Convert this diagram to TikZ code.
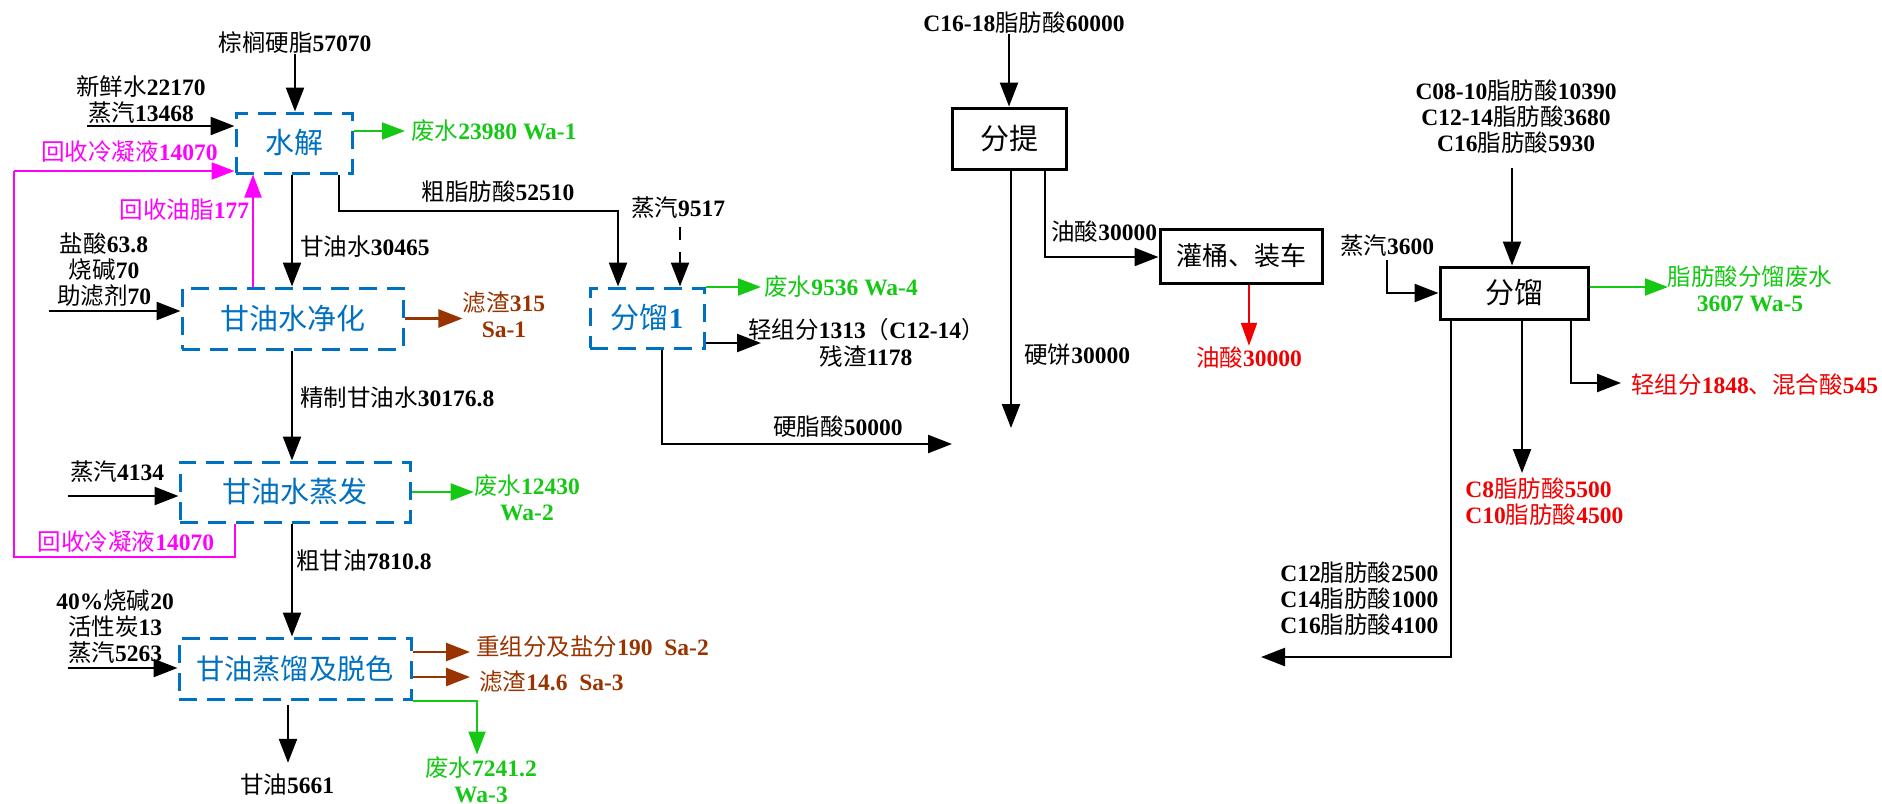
\documentclass[tikz,border=0pt]{standalone}
\usepackage{fontspec}
\setmainfont{Liberation Serif}
\newfontfamily\cjk{Noto Sans CJK SC}
\usetikzlibrary{arrows.meta}
\definecolor{pblue}{RGB}{0,112,192}
\definecolor{pgreen}{RGB}{20,200,20}
\definecolor{pbrown}{RGB}{153,51,0}
\definecolor{pmag}{RGB}{255,0,255}
\definecolor{pred}{RGB}{240,0,0}
\newcommand\zh[1]{{\cjk\mdseries #1}}
\newcommand\lblfont{\fontsize{11.75}{13}\selectfont\bfseries}
\newcommand\boxfont{\fontsize{14.5}{16}\selectfont\bfseries}
\begin{document}
\begin{tikzpicture}[x=0.5pt,y=-0.5pt,
  lbl/.style={font=\lblfont, inner sep=0pt, align=center},
  pbox/.style={draw=pblue, dash pattern=on 9pt off 5pt, line width=1.5pt, text=pblue, font=\boxfont, inner sep=0pt},
  kbox/.style={draw=black, line width=1.5pt, font=\boxfont, inner sep=0pt},
  arr/.style={draw=black, line width=1.2pt, -{Triangle[length=12pt,width=9pt]}},
  garr/.style={draw=pgreen, line width=1pt, -{Triangle[length=11.5pt,width=8.5pt]}},
  barr/.style={draw=pbrown, line width=1.3pt, -{Triangle[length=12pt,width=9pt]}},
  marr/.style={draw=pmag, line width=1pt, -{Triangle[length=11.5pt,width=8.5pt]}},
  mline/.style={draw=pmag, line width=1pt},
  rarr/.style={draw=pred, line width=1pt, -{Triangle[length=11.5pt,width=8pt]}}]
\useasboundingbox (0,0) rectangle (1882,803);

% ---------- boxes ----------
\node[pbox, minimum width=58pt, minimum height=30pt] (sj) at (294,143) {\zh{水解}};
\node[pbox, minimum width=110.5pt, minimum height=30.5pt] (jh) at (292.5,318.5) {\zh{甘油水净化}};
\node[pbox, minimum width=115pt, minimum height=30pt] (zf) at (295,492) {\zh{甘油水蒸发}};
\node[pbox, minimum width=116pt, minimum height=30.5pt, font=\fontsize{14.1}{16}\selectfont] (zl) at (295,668.5) {\zh{甘油蒸馏及脱色}};
\node[pbox, minimum width=57pt, minimum height=30pt] (fl1) at (647,318) {\zh{分馏}1};
\node[kbox, minimum width=57pt, minimum height=30.5pt] (ft) at (1009,138.5) {\zh{分提}};
\node[kbox, minimum width=81pt, minimum height=27pt, font=\fontsize{13}{15}\selectfont] (gt) at (1241,256) {\zh{灌桶、装车}};
\node[kbox, minimum width=74pt, minimum height=26pt] (fl) at (1514,293) {\zh{分馏}};

% ---------- left column ----------
\coordinate (cx) at (292,0);
\node[lbl] (palm) at (295,43) {\zh{棕榈硬脂}57070};
\draw[arr] (palm.south) -- (palm.south |- sj.north);

\node[lbl] (in1) at (141,100) {\zh{新鲜水}22170\\\zh{蒸汽}13468};
\coordinate (in1a) at (87,126);
\draw[arr] (in1a) -- (in1a -| sj.west);

\node[lbl, text=pgreen, anchor=west] (wa1) at (411,131) {\zh{废水}23980 Wa-1};
\draw[garr] (wa1.west -| sj.east) -- ([xshift=-3pt]wa1.west);

\node[lbl, text=pmag] (rc1) at (129.5,152) {\zh{回收冷凝液}14070};
\coordinate (m1) at (14,171);
\coordinate (m2) at (14,557);
\coordinate (m3) at (235,557);
\draw[marr] (m1) -- (m1 -| sj.west);
\draw[mline] (m1) -- (m2) -- (m3) -- (m3 |- zf.south);
\node[lbl, text=pmag] (rc2) at (126,542) {\zh{回收冷凝液}14070};

\node[lbl, text=pmag] (ry) at (184.5,210) {\zh{回收油脂}177};
\coordinate (m4) at (253,0);
\draw[marr] (m4 |- jh.north) -- (m4 |- sj.south);

\draw[arr] (cx |- sj.south) -- (cx |- jh.north);
\node[lbl, anchor=west] (gys) at (300,247) {\zh{甘油水}30465};

\coordinate (c1) at (339,211);
\coordinate (c2) at (618,211);
\draw[arr] (c1 |- sj.south) -- (c1) -- (c2) -- (c2 |- fl1.north);
\node[lbl] (czf) at (498,192) {\zh{粗脂肪酸}52510};

\node[lbl] (in2) at (104,270) {\zh{盐酸}63.8\\\zh{烧碱}70\\\zh{助滤剂}70};
\coordinate (in2a) at (49,311);
\draw[arr] (in2a) -- (in2a -| jh.west);

\node[lbl, text=pbrown] (sa1) at (504,315) {\zh{滤渣}315\\Sa-1};
\draw[barr] (jh.east) -- (jh.east -| sa1.west);

\draw[arr] (cx |- jh.south) -- (cx |- zf.north);
\node[lbl, anchor=west] (jz) at (300,398) {\zh{精制甘油水}30176.8};

\node[lbl] (in3) at (117,472) {\zh{蒸汽}4134};
\coordinate (in3a) at (68,496);
\draw[arr] (in3a) -- (in3a -| zf.west);

\node[lbl, text=pgreen] (wa2) at (527,498) {\zh{废水}12430\\Wa-2};
\draw[garr] (zf.east) -- (zf.east -| wa2.west);

\draw[arr] (cx |- zf.south) -- (cx |- zl.north);
\node[lbl, anchor=west] (cgy) at (296,561) {\zh{粗甘油}7810.8};

\node[lbl] (in4) at (115,627) {40\%\zh{烧碱}20\\\zh{活性炭}13\\\zh{蒸汽}5263};
\coordinate (in4a) at (68,668);
\draw[arr] (in4a) -- (in4a -| zl.west);

\node[lbl, text=pbrown, anchor=west] (sa2) at (476,647) {\zh{重组分及盐分}190\ \ Sa-2};
\coordinate (b2) at (470,652);
\draw[barr] (b2 -| zl.east) -- (b2);
\node[lbl, text=pbrown, anchor=west] (sa3) at (479,682) {\zh{滤渣}14.6\ \ Sa-3};
\coordinate (b3) at (470,677);
\draw[barr] (b3 -| zl.east) -- (b3);

\node[lbl, text=pgreen] (wa3) at (481,780) {\zh{废水}7241.2\\Wa-3};
\coordinate (g3) at (477,0);
\draw[garr] (zl.south east) -- (g3 |- zl.south east) -- ([yshift=1pt]g3 |- wa3.north);

\node[lbl] (gy) at (287,785) {\zh{甘油}5661};
\coordinate (gy0) at (288,705);
\draw[arr] (gy0) -- ([yshift=5.5pt]gy0 |- gy.north);

% ---------- fen liu 1 ----------
\node[lbl] (st5) at (678,208) {\zh{蒸汽}9517};
\coordinate (st5a) at (680,227);
\draw[arr, dash pattern=on 6.5pt off 6pt] (st5a) -- (st5a |- fl1.north);

\node[lbl, text=pgreen, anchor=west] (wa4) at (764,287) {\zh{废水}9536 Wa-4};
\draw[garr] (wa4.west -| fl1.east) -- ([xshift=-1.5pt]wa4.west);

\node[lbl, anchor=west] (qz) at (748,330) {\zh{轻组分}1313\zh{（}C12-14\zh{）}};
\node[lbl] (cz) at (866,356) {\zh{残渣}1178};
\coordinate (q1) at (761,343);
\draw[arr] (q1 -| fl1.east) -- (q1);

\coordinate (h1) at (662,444);
\coordinate (h2) at (952,444);
\draw[arr] (h1 |- fl1.south) -- (h1) -- (h2);
\node[lbl] (yzs) at (838,427) {\zh{硬脂酸}50000};

% ---------- fen ti ----------
\node[lbl] (c1618) at (1024,23) {C16-18\zh{脂肪酸}60000};
\draw[arr] (c1618.south -| ft.north) -- (ft.north);
\coordinate (yb) at (1011,428);
\draw[arr] (yb |- ft.south) -- (yb);
\node[lbl, anchor=west] (yb1) at (1024,355) {\zh{硬饼}30000};
\coordinate (ys) at (1045,257);
\draw[arr] (ys |- ft.south) -- (ys) -- (ys -| gt.west);
\node[lbl, anchor=west] (ys1) at (1051,232) {\zh{油酸}30000};
\node[lbl, text=pred] (ys2) at (1249,358) {\zh{油酸}30000};
\draw[rarr] (ys2.north |- gt.south) -- ([yshift=0.5pt]ys2.north);

% ---------- fen liu ----------
\node[lbl] (c08) at (1516,117) {C08-10\zh{脂肪酸}10390\\C12-14\zh{脂肪酸}3680\\C16\zh{脂肪酸}5930};
\coordinate (c08a) at (1512,168);
\draw[arr] (c08a) -- (c08a |- fl.north);

\node[lbl] (st6) at (1387,246) {\zh{蒸汽}3600};
\coordinate (s36) at (1387,260);
\draw[arr] (s36) -- (s36 |- fl.west) -- (fl.west);

\node[lbl, text=pgreen] (wa5) at (1750,289) {\zh{脂肪酸分馏废水}\\3607 Wa-5};
\coordinate (g5) at (1668,287);
\draw[garr] (g5 -| fl.east) -- (g5);

\coordinate (l1) at (1571,383);
\coordinate (l2) at (1621,383);
\draw[arr] (l1 |- fl.south) -- (l1) -- (l2);
\node[lbl, text=pred, anchor=west] (lz) at (1631,385) {\zh{轻组分}1848\zh{、混合酸}545};

\coordinate (c8) at (1522,473);
\draw[arr] (c8 |- fl.south) -- (c8);
\node[lbl, text=pred, anchor=west, align=left] (c8t) at (1465,502) {C8\zh{脂肪酸}5500\\C10\zh{脂肪酸}4500};

\coordinate (k1) at (1451,657);
\coordinate (k2) at (1261,657);
\draw[arr] (k1 |- fl.south) -- (k1) -- (k2);
\node[lbl, anchor=west, align=left] (c12t) at (1280,599) {C12\zh{脂肪酸}2500\\C14\zh{脂肪酸}1000\\C16\zh{脂肪酸}4100};
\end{tikzpicture}
\end{document}
